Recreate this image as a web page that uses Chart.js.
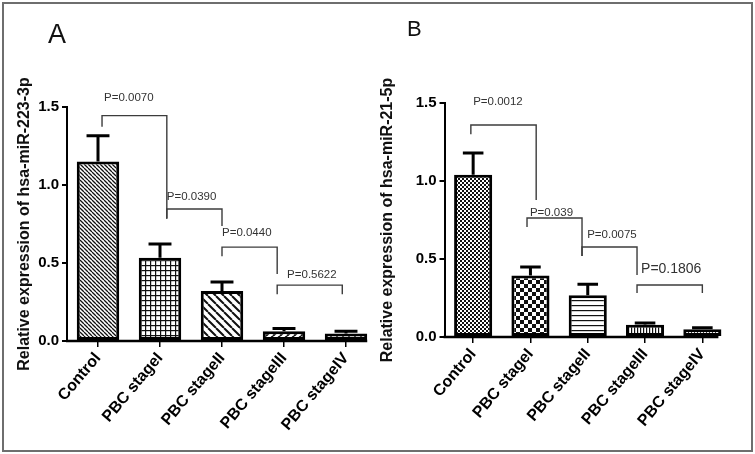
<!DOCTYPE html>
<html>
<head>
<meta charset="utf-8">
<script src="https://cdn.jsdelivr.net/npm/chart.js@4.4.0/dist/chart.umd.min.js"></script>
<style>
  body { margin: 0; background: #fff; }
  #wrap { position: relative; width: 755px; height: 454px; overflow: hidden; }
  #frame { position: absolute; left: 2px; top: 2px; width: 747px; height: 446px; border: 2px solid #6e6e6e; }
  .panel { position: absolute; top: 0; }
  .tag { position: absolute; font-family: "Liberation Sans", Arial, sans-serif; color: #111; }
</style>
</head>
<body>
<div id="wrap">
  <div id="frame"></div>
  <canvas id="chartA" class="panel" width="378" height="454" style="left:0"></canvas>
  <canvas id="chartB" class="panel" width="379" height="454" style="left:376px"></canvas>
  <div class="tag" style="left:48px;top:21px;font-size:27px;line-height:27px">A</div>
  <div class="tag" style="left:407px;top:18px;font-size:22px;line-height:22px">B</div>
</div>
<script>
"use strict";

const FONT = '"Liberation Sans", Arial, sans-serif';

// categories
const groups = ["Control", "PBC stageI", "PBC stageII", "PBC stageIII", "PBC stageIV"];

// panel A : hsa-miR-223-3p (mean, SEM)
const meanA = [1.15, 0.533, 0.321, 0.062, 0.048];
const semA = [0.166, 0.088, 0.058, 0.018, 0.014];
const pA = ["P=0.0070", "P=0.0390", "P=0.0440", "P=0.5622"];

// panel B : hsa-miR-21-5p (mean, SEM)
const meanB = [1.04, 0.395, 0.267, 0.078, 0.05];
const semB = [0.14, 0.054, 0.071, 0.012, 0.009];
const pB = ["P=0.0012", "P=0.039", "P=0.0075", "P=0.1806"];

const yTicks = [0, 0.5, 1.0, 1.5];

// brackets: x in category units, heights in axis units
const bracketsA = [
  { from: 0.065, to: 1.11, top: 1.445, l: 1.373, r: 0.789, tx: 0.097, ty: 1.56 },
  { from: 1.11, to: 2.0, top: 0.846, l: 0.782, r: 0.737, tx: 1.11, ty: 0.924 },
  { from: 2.0, to: 2.89, top: 0.602, l: 0.544, r: 0.429, tx: 2.0, ty: 0.692 },
  { from: 2.89, to: 3.94, top: 0.358, l: 0.3, r: 0.3, tx: 3.05, ty: 0.423 }
];
const bracketsB = [
  { from: -0.04, to: 1.1, top: 1.359, l: 1.3, r: 0.878, tx: 0.0, ty: 1.506 },
  { from: 0.94, to: 1.9, top: 0.763, l: 0.705, r: 0.519, tx: 0.99, ty: 0.797 },
  { from: 1.9, to: 2.86, top: 0.577, l: 0.519, r: 0.397, tx: 1.99, ty: 0.654 },
  { from: 2.86, to: 4.0, top: 0.333, l: 0.282, r: 0.282, tx: 2.93, ty: 0.436, big: true }
];

// fill patterns
function pattern(size, draw) {
  const c = document.createElement("canvas");
  c.width = size; c.height = size;
  const g = c.getContext("2d");
  g.fillStyle = "#fff";
  g.fillRect(0, 0, size, size);
  g.strokeStyle = "#111";
  g.fillStyle = "#111";
  draw(g, size);
  return g.createPattern(c, "repeat");
}
function back(s, lw) { // "\\"
  return pattern(s, (g) => {
    g.lineWidth = lw; g.beginPath();
    for (let k = -1; k <= 1; k++) { g.moveTo(k * s, 0); g.lineTo(k * s + s, s); }
    g.stroke();
  });
}
function fwd(s, lw) { // "/"
  return pattern(s, (g) => {
    g.lineWidth = lw; g.beginPath();
    for (let k = -1; k <= 1; k++) { g.moveTo(k * s, s); g.lineTo(k * s + s, 0); }
    g.stroke();
  });
}
function vert(s, lw) {
  return pattern(s, (g) => { g.fillRect(0, 0, lw, s); });
}
function horiz(s, lw) {
  return pattern(s, (g) => { g.fillRect(0, 0, s, lw); });
}
function grid(s, lw) {
  return pattern(s, (g) => { g.fillRect(0, 0, lw, s); g.fillRect(0, 0, s, lw); });
}
function checker(s) {
  return pattern(s * 2, (g) => { g.fillRect(0, 0, s, s); g.fillRect(s, s, s, s); });
}

const fillsA = [back(4, 1.3), grid(5, 1.2), back(8, 2), fwd(7, 2), vert(6, 2)];
const fillsB = [checker(2), checker(4), horiz(5, 1.2), vert(3, 1.2), fwd(3, 1)];

function extras(sem, brackets, labels, axisExtend) {
  return {
    id: "extras",
    afterDatasetsDraw(chart) {
      const ctx = chart.ctx;
      const xs = chart.scales.x, ys = chart.scales.y;
      const meta = chart.getDatasetMeta(0);
      const vals = chart.data.datasets[0].data;
      ctx.save();
      ctx.strokeStyle = "#000";
      ctx.lineCap = "butt";

      // x axis line, up to the last bar
      const last = meta.data[meta.data.length - 1];
      const y0 = ys.getPixelForValue(0);
      ctx.lineWidth = 2.5;
      ctx.beginPath();
      ctx.moveTo(chart.chartArea.left - 1, y0);
      ctx.lineTo(last.x + last.width / 2 + axisExtend, y0);
      ctx.stroke();

      // error bars (upper only)
      meta.data.forEach((bar, i) => {
        const yTop = ys.getPixelForValue(vals[i]);
        const yEnd = ys.getPixelForValue(vals[i] + sem[i]);
        const half = bar.width * 0.27;
        ctx.lineWidth = 3;
        ctx.beginPath();
        ctx.moveTo(bar.x, yTop);
        ctx.lineTo(bar.x, yEnd);
        ctx.moveTo(bar.x - half, yEnd);
        ctx.lineTo(bar.x + half, yEnd);
        ctx.stroke();
      });

      // significance brackets
      brackets.forEach((b, i) => {
        const x1 = xs.getPixelForValue(b.from);
        const x2 = xs.getPixelForValue(b.to);
        const yt = ys.getPixelForValue(b.top);
        ctx.strokeStyle = "#3c3c3c";
        ctx.lineWidth = 1.4;
        ctx.beginPath();
        ctx.moveTo(x1, ys.getPixelForValue(b.l));
        ctx.lineTo(x1, yt);
        ctx.lineTo(x2, yt);
        ctx.lineTo(x2, ys.getPixelForValue(b.r));
        ctx.stroke();
        ctx.fillStyle = "#333";
        ctx.font = (b.big ? "14px " : "11.5px ") + FONT;
        ctx.textAlign = "left";
        ctx.textBaseline = "middle";
        ctx.fillText(labels[i], xs.getPixelForValue(b.tx), ys.getPixelForValue(b.ty));
      });
      ctx.restore();
    }
  };
}

function makeChart(id, mean, sem, fills, title, brackets, labels, lay) {
  return new Chart(document.getElementById(id), {
    type: "bar",
    data: {
      labels: groups,
      datasets: [{
        data: mean,
        backgroundColor: fills,
        borderColor: "#000",
        borderWidth: 3,
        borderSkipped: false,
        barPercentage: lay.bar,
        categoryPercentage: 1
      }]
    },
    options: {
      responsive: false,
      animation: false,
      devicePixelRatio: 1,
      layout: { padding: { left: 0, right: lay.right, top: lay.top, bottom: 0 } },
      plugins: { legend: { display: false }, tooltip: { enabled: false } },
      scales: {
        x: {
          offset: true,
          grid: { display: true, drawOnChartArea: false, offset: false, tickLength: 6, color: "#000", lineWidth: 1.5 },
          border: { display: false },
          ticks: {
            autoSkip: false, minRotation: 50, maxRotation: 50, padding: 2,
            color: "#000", font: { family: FONT, size: 16, weight: "bold" }
          },
          afterFit(s) { s.height = lay.xh; }
        },
        y: {
          min: yTicks[0],
          max: yTicks[yTicks.length - 1],
          afterBuildTicks(s) { s.ticks = yTicks.map((v) => ({ value: v })); },
          ticks: {
            callback: (v) => Number(v).toFixed(1),
            padding: 3, color: "#000", font: { family: FONT, size: 15, weight: "bold" }
          },
          grid: { drawOnChartArea: false, tickLength: 5, color: "#000", lineWidth: 2 },
          border: { display: true, color: "#000", width: 2 },
          title: {
            display: true, text: title, color: "#111",
            font: { family: FONT, size: 16, weight: "bold" },
            padding: { top: lay.titlePad, bottom: 0 }
          },
          afterFit(s) { s.width = lay.yw; }
        }
      }
    },
    plugins: [extras(sem, brackets, labels, lay.axisExtend)]
  });
}

makeChart("chartA", meanA, semA, fillsA, "Relative expression of hsa-miR-223-3p", bracketsA, pA,
  { bar: 0.685, right: 1, top: 107, xh: 113, yw: 67, titlePad: 15.4, axisExtend: 0 });
makeChart("chartB", meanB, semB, fillsB, "Relative expression of hsa-miR-21-5p", bracketsB, pB,
  { bar: 0.665, right: 24, top: 103, xh: 117, yw: 68.5, titlePad: 2.4, axisExtend: -3 });
</script>
</body>
</html>
